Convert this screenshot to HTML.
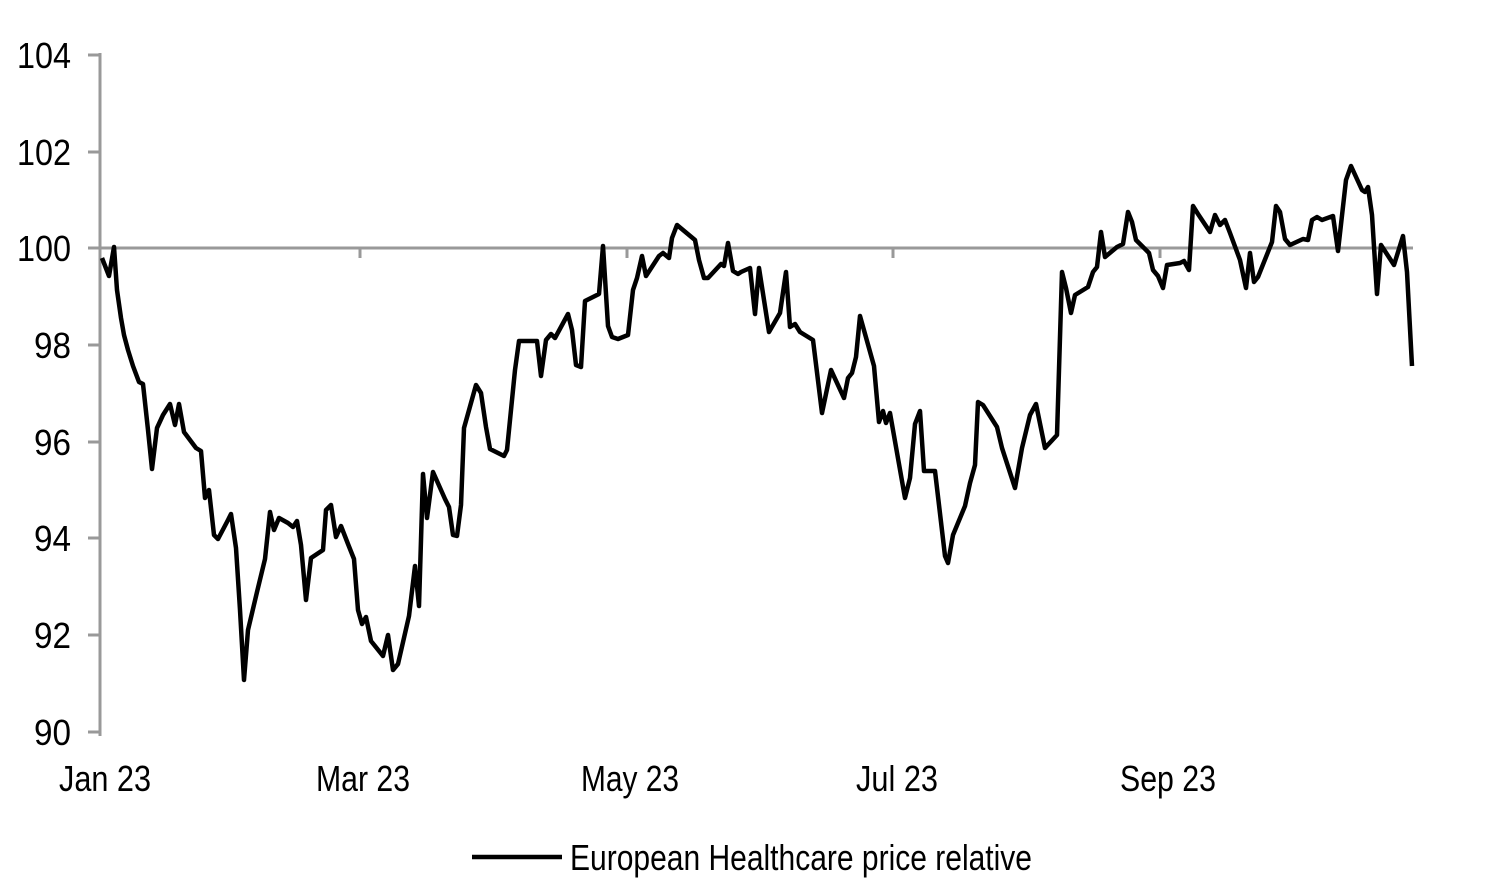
<!DOCTYPE html>
<html><head><meta charset="utf-8"><style>html,body{margin:0;padding:0;background:#fff}svg{display:block}</style></head>
<body>
<svg width="1490" height="894" viewBox="0 0 1490 894" xmlns="http://www.w3.org/2000/svg" font-family="Liberation Sans, Arial, sans-serif">
<g stroke="#999" stroke-width="3" fill="none">
<line x1="100" y1="53" x2="100" y2="736"/>
<line x1="88" y1="55" x2="100" y2="55"/>
<line x1="88" y1="152" x2="100" y2="152"/>
<line x1="88" y1="248" x2="100" y2="248"/>
<line x1="88" y1="345" x2="100" y2="345"/>
<line x1="88" y1="442" x2="100" y2="442"/>
<line x1="88" y1="538" x2="100" y2="538"/>
<line x1="88" y1="635" x2="100" y2="635"/>
<line x1="88" y1="732" x2="100" y2="732"/>
<line x1="100" y1="248" x2="1413" y2="248"/>
<line x1="360" y1="248" x2="360" y2="258"/>
<line x1="627" y1="248" x2="627" y2="258"/>
<line x1="893" y1="248" x2="893" y2="258"/>
<line x1="1160" y1="248" x2="1160" y2="258"/>
</g>
<g font-size="36" fill="#000" text-anchor="end">
<text x="71" y="68" textLength="54" lengthAdjust="spacingAndGlyphs">104</text>
<text x="71" y="165" textLength="54" lengthAdjust="spacingAndGlyphs">102</text>
<text x="71" y="261" textLength="54" lengthAdjust="spacingAndGlyphs">100</text>
<text x="71" y="358" textLength="37" lengthAdjust="spacingAndGlyphs">98</text>
<text x="71" y="455" textLength="37" lengthAdjust="spacingAndGlyphs">96</text>
<text x="71" y="551" textLength="37" lengthAdjust="spacingAndGlyphs">94</text>
<text x="71" y="648" textLength="37" lengthAdjust="spacingAndGlyphs">92</text>
<text x="71" y="745" textLength="37" lengthAdjust="spacingAndGlyphs">90</text>
</g>
<g font-size="36" fill="#000" text-anchor="middle">
<text x="105" y="791" textLength="92" lengthAdjust="spacingAndGlyphs">Jan 23</text>
<text x="363" y="791" textLength="94" lengthAdjust="spacingAndGlyphs">Mar 23</text>
<text x="630" y="791" textLength="98" lengthAdjust="spacingAndGlyphs">May 23</text>
<text x="897" y="791" textLength="82" lengthAdjust="spacingAndGlyphs">Jul 23</text>
<text x="1168" y="791" textLength="96" lengthAdjust="spacingAndGlyphs">Sep 23</text>
</g>
<line x1="472" y1="857" x2="562" y2="857" stroke="#000" stroke-width="4.5"/>
<text x="570" y="870" font-size="36" textLength="462" lengthAdjust="spacingAndGlyphs">European Healthcare price relative</text>
<polyline fill="none" stroke="#000" stroke-width="4.5" stroke-linejoin="round" points="
102,258 109,276 114,247 117,290 121,318 124,335 128,350 133,366 139,382 143,384 148,430 152,469 157,428 163,415 170,404 175,425 179,404 184,432 190,440 196,448 201,451 205,498 209,490 214,535 218,539 228,520 231,514 236,548 240,610 244,680 248,630 257,592 265,559 270,512 274,530 279,518 288,523 293,527 297,521 301,545 306,600 311,558 323,550 326,510 331,505 336,537 341,526 348,544 354,559 358,610 362,624 366,617 371,641 383,656 388,635 393,670 398,664 409,616 415,566 419,606 423,474 427,518 433,472 445,499 449,507 453,535 457,536 461,505 464,428 476,385 481,393 486,427 490,449 504,456 507,450 515,370 519,341 530,341 537,341 541,376 546,340 551,334 555,338 568,314 572,330 576,365 581,367 585,301 599,294 603,246 608,326 612,337 618,339 628,335 633,290 637,278 642,256 646,276 659,256 663,253 669,258 672,238 677,225 695,240 699,260 704,278 708,278 721,264 724,266 728,243 733,271 738,274 741,272 750,268 755,314 759,268 769,332 780,313 786,272 790,327 795,324 800,332 813,340 822,413 831,370 844,398 848,378 852,373 856,357 860,316 874,366 879,422 883,411 886,423 890,413 905,498 910,478 915,424 920,411 924,471 935,471 945,556 948,563 953,535 965,506 970,483 975,465 978,402 983,405 997,427 1002,448 1015,488 1022,448 1030,415 1036,404 1045,448 1057,435 1062,272 1066,288 1071,313 1075,295 1088,287 1093,272 1097,267 1101,232 1105,257 1117,247 1123,244 1128,212 1132,222 1136,240 1142,246 1149,253 1153,270 1158,276 1163,288 1167,265 1180,263 1184,261 1189,270 1193,206 1198,214 1210,232 1215,215 1220,225 1225,220 1230,233 1240,260 1246,288 1250,253 1254,282 1258,277 1272,242 1276,206 1280,212 1285,239 1290,245 1303,239 1308,240 1312,220 1317,217 1322,220 1333,216 1338,251 1346,180 1351,166 1362,190 1365,192 1368,187 1372,215 1377,294 1381,245 1394,265 1403,236 1407,272 1412,366"/>
</svg>
</body></html>
